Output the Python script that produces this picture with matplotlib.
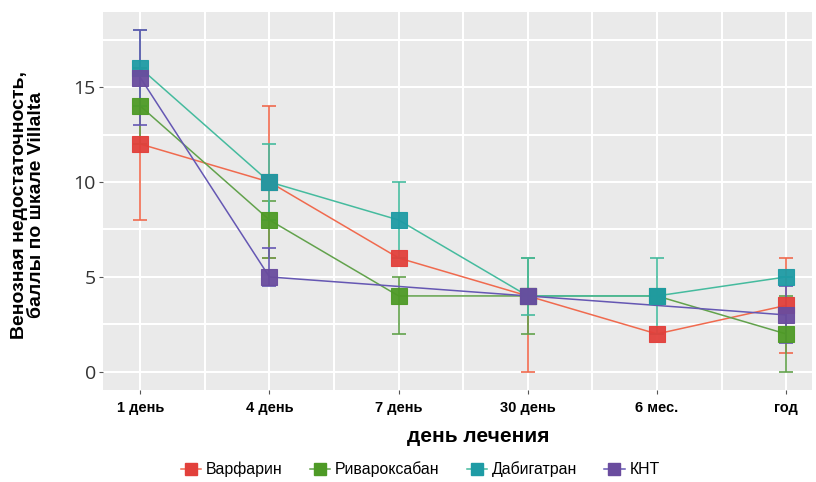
import numpy as np
import matplotlib
matplotlib.use("Agg")
import matplotlib.pyplot as plt
from matplotlib.lines import Line2D

plt.rcParams['font.family'] = ['Liberation Sans', 'DejaVu Sans']

# Visit time points
categories = ["1 день", "4 день", "7 день", "30 день", "6 мес.", "год"]

# Villalta scores (mean) with lower / upper bounds of the error bars
warfarin = [12, 10, 6, 4, 2, 3.5]
warfarin_lo = [8, 6, 6, 0, 2, 1]
warfarin_hi = [16, 14, 6, 4, 2, 6]

rivaroxaban = [14, 8, 4, 4, 4, 2]
rivaroxaban_lo = [12, 6, 2, 2, 4, 0]
rivaroxaban_hi = [16, 9, 5, 6, 4, 4]

dabigatran = [16, 10, 8, 4, 4, 5]
dabigatran_lo = [14, 8, 6, 3, 2, 5]
dabigatran_hi = [18, 12, 10, 6, 6, 5]

knt = [15.5, 5, np.nan, 4, np.nan, 3]
knt_lo = [13, 4.5, np.nan, 4, np.nan, 1.5]
knt_hi = [18, 6.5, np.nan, 4, np.nan, 4.5]

series_names = ["Варфарин", "Ривароксабан", "Дабигатран", "КНТ"]
marker_colors = ["#E2403B", "#4E9A26", "#1E9BA5", "#6A4C9E"]
line_colors = ["#F06A4E", "#62A24C", "#45BB9E", "#6557B3"]

fig = plt.figure(figsize=(8.16, 4.82), dpi=100)
ax = fig.add_axes([0.126, 0.191, 0.869, 0.784])
ax.set_facecolor("#EAEAEA")

x = np.arange(len(categories))
all_series = [
    (warfarin, warfarin_lo, warfarin_hi),
    (rivaroxaban, rivaroxaban_lo, rivaroxaban_hi),
    (dabigatran, dabigatran_lo, dabigatran_hi),
    (knt, knt_lo, knt_hi),
]

for i, (vals, lo, hi) in enumerate(all_series):
    v = np.array(vals, dtype=float)
    lo = np.array(lo, dtype=float)
    hi = np.array(hi, dtype=float)
    ok = ~np.isnan(v)
    xs, vs = x[ok], v[ok]
    yerr = np.vstack([vs - lo[ok], hi[ok] - vs])
    ax.errorbar(xs, vs, yerr=yerr, fmt="none", ecolor=line_colors[i],
                elinewidth=1.2, capsize=4.8, capthick=1.2, zorder=2 + i)
    ax.plot(xs, vs, color=line_colors[i], lw=1.1, zorder=2 + i)
    ax.plot(xs, vs, ls="none", marker="s", ms=11, mfc=marker_colors[i],
            mec=marker_colors[i], mew=0.8, alpha=0.95, zorder=6 + i)

ax.set_xlim(-0.29, 5.2)
ax.set_ylim(-0.95, 18.95)
ax.set_xticks(x)
ax.set_xticklabels(categories, fontsize=10.5, fontweight="bold")
ax.set_yticks([0, 5, 10, 15])
ax.set_yticklabels(["0", "5", "10", "15"], fontsize=14, color="#333333",
                   family=["Open Sans", "DejaVu Sans"])
ax.set_xticks(x[:-1] + 0.5, minor=True)
ax.set_yticks([2.5, 7.5, 12.5, 17.5], minor=True)
ax.grid(True, which="both", color="white", lw=1.5)
ax.set_axisbelow(True)
ax.tick_params(axis="both", which="major", length=3, color="#555555", pad=2)
ax.tick_params(axis="x", which="major", pad=5)
ax.tick_params(axis="both", which="minor", length=0)
for s in ax.spines.values():
    s.set_visible(False)

ax.set_xlabel("день лечения", fontsize=15, fontweight="bold")
ax.xaxis.set_label_coords(0.529, -0.098)
ax.set_ylabel("Венозная недостаточность,\nбаллы по шкале Villalta",
              fontsize=14, fontweight="bold", linespacing=0.95)
ax.yaxis.set_label_coords(-0.082, 0.49)

handles = [Line2D([], [], color=line_colors[i], lw=1.1, marker="s", ms=9,
                  mfc=marker_colors[i], mec=marker_colors[i])
           for i in range(4)]
fig.legend(handles, series_names, loc="center", bbox_to_anchor=(0.515, 0.026),
           ncol=4, frameon=False, fontsize=11.4, handlelength=1.3,
           handletextpad=0.3, columnspacing=1.7)

fig.savefig("out.png", dpi=100)
